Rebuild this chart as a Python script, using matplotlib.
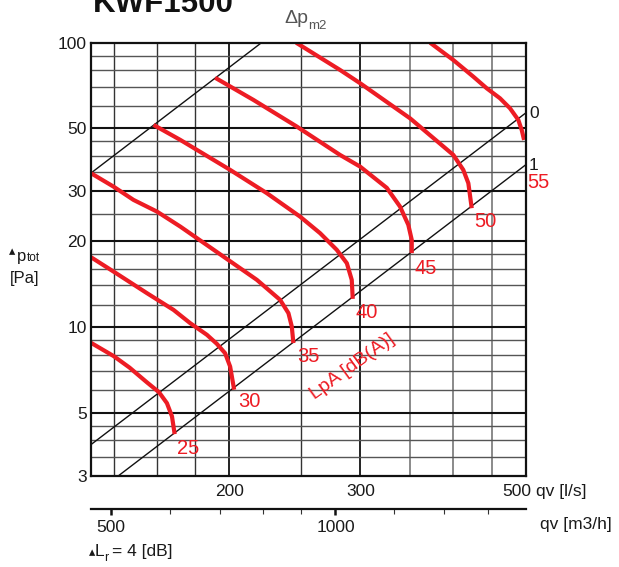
import matplotlib
matplotlib.use('Agg')
import matplotlib.pyplot as plt
import matplotlib.transforms as mtrans
from matplotlib.ticker import NullFormatter, FixedLocator, FixedFormatter

plt.rcParams['font.family'] = ['Liberation Sans', 'DejaVu Sans']

W, H = 619, 567
RED = '#ED1C24'
TXT = '#1a1a1a'

# ---------------- data ----------------
x_range = [130.5, 500]          # qv [l/s]
y_range = [3, 100]              # dp_tot [Pa]

x_grid_major = [200, 300]
x_grid_dark = [140, 160, 180, 250]
x_grid_light = [350, 400, 450]
y_grid_major = [5, 10, 20, 30, 50]
y_grid_minor = [3.5, 4, 4.5, 6, 7, 8, 9, 12, 14, 16, 18, 25, 35, 40, 45, 60, 70, 80, 90]

y_ticks = [3, 5, 10, 20, 30, 50, 100]
x_ticks = [200, 300]
m3h_major = [500, 1000]
m3h_minor = [600, 700, 800, 900, 1200, 1400, 1600]

# Δp_m2 lines (end points)
line_top_q = [130.5, 221]
line_top_p = [34.8, 100]
line0_q = [130.5, 500]
line0_p = [3.86, 56.6]
line1_q = [142.1, 500]
line1_p = [3.0, 37.2]

# LpA curves
c25_q = [130.5, 140, 147, 155, 161, 165, 167.6, 169]
c25_p = [8.8, 7.9, 7.2, 6.4, 5.9, 5.4, 4.85, 4.2]

c30_q = [130.5, 139.9, 155.1, 168.4, 177.3, 186.7, 192.5, 197.5, 200.6, 203.1]
c30_p = [17.6, 15.67, 13.16, 11.49, 10.32, 9.39, 8.73, 8.09, 7.26, 6.02]

c35_q = [130.5, 139.9, 148.8, 160, 172, 196.5, 217.9, 234.1, 240.2, 242.7, 243.9]
c35_p = [34.75, 31.18, 28.0, 25.47, 22.55, 17.69, 14.65, 12.46, 11.19, 10.04, 8.78]

c40_q = [158.3, 172, 200.6, 224.7, 249, 264.9, 278.9, 287.7, 292.1, 293]
c40_p = [51.4, 45.5, 35.7, 29.56, 24.45, 21.38, 18.68, 16.77, 14.65, 12.56]

c45_q = [191.5, 215.6, 246.5, 281.7, 299.8, 325.5, 339.1, 347.9, 351.6, 351.6]
c45_p = [75.3, 62.9, 50.7, 40.3, 36.65, 30.86, 26.52, 22.87, 20.25, 18.19]

c50_q = [246, 281.7, 299.8, 349.8, 399.8, 412.3, 418.8, 423.2]
c50_p = [100, 80.2, 72.0, 54.2, 40.3, 35.7, 32.05, 26.18]

c55_q = [372.1, 399.8, 425.3, 443.2, 461.8, 476.3, 488.7, 493.9, 497.5]
c55_p = [100, 86.9, 75.95, 69.15, 63.76, 58.8, 53.5, 49.3, 45.5]

curves = [(c25_q, c25_p), (c30_q, c30_p), (c35_q, c35_p), (c40_q, c40_p),
          (c45_q, c45_p), (c50_q, c50_p), (c55_q, c55_p)]
curve_labels = ['25', '30', '35', '40', '45', '50', '55']

# ---------------- layout helpers ----------------
def fx(x):
    return x / W

def fy(y):
    return 1 - y / H

L, R, T, B = 91, 525.7, 42.7, 475.7

fig = plt.figure(figsize=(W / 100, H / 100), dpi=100)
ax = fig.add_axes([fx(L), fy(B), (R - L) / W, (B - T) / H])
ax.set_xscale('log')
ax.set_yscale('log')
ax.set_xlim(*x_range)
ax.set_ylim(*y_range)

for v in x_grid_major:
    ax.axvline(v, color='#111111', lw=1.3, zorder=1)
for v in x_grid_dark:
    ax.axvline(v, color='#333333', lw=1.0, zorder=1)
for v in x_grid_light:
    ax.axvline(v, color='#777777', lw=1.2, zorder=1)
for v in y_grid_major:
    ax.axhline(v, color='#111111', lw=1.5, zorder=1)
for v in y_grid_minor:
    ax.axhline(v, color='#555555', lw=1.0, zorder=1)

for q, p in [(line_top_q, line_top_p), (line0_q, line0_p), (line1_q, line1_p)]:
    ax.plot(q, p, color='#111111', lw=1.0, zorder=2)

for q, p in curves:
    ax.plot(q, p, color=RED, lw=3.0, solid_capstyle='butt',
            solid_joinstyle='round', zorder=4)

for s in ax.spines.values():
    s.set_linewidth(1.6)
    s.set_color('#111111')
    s.set_zorder(5)

ax.xaxis.set_major_locator(FixedLocator([]))
ax.xaxis.set_minor_locator(FixedLocator([]))
ax.yaxis.set_major_locator(FixedLocator(y_ticks))
ax.yaxis.set_major_formatter(FixedFormatter([str(v) for v in y_ticks]))
ax.yaxis.set_minor_locator(FixedLocator([]))
ax.yaxis.set_minor_formatter(NullFormatter())
ax.tick_params(axis='both', which='both', length=0, labelsize=12.5,
               labelcolor=TXT, pad=3)

# x labels (l/s)
tr = mtrans.blended_transform_factory(ax.transData, fig.transFigure)
for v in x_ticks:
    ax.text(v, fy(491.7), str(v), transform=tr, ha='center', va='center',
            fontsize=12.5, color=TXT)
fig.text(fx(531), fy(491.7), '500', ha='right', va='center', fontsize=12.5, color=TXT)
fig.text(fx(535.5), fy(491.7), 'qv [l/s]', ha='left', va='center', fontsize=12.5, color=TXT)

# secondary axis (m3/h)
ax2 = fig.add_axes([fx(L), fy(509.3), (R - L) / W, 1e-6])
ax2.set_xscale('log')
ax2.set_xlim(x_range[0] * 3.6, x_range[1] * 3.6)
ax2.set_yticks([])
for k in ['left', 'right', 'top']:
    ax2.spines[k].set_visible(False)
ax2.spines['bottom'].set_linewidth(1.6)
ax2.spines['bottom'].set_color('#111111')
ax2.patch.set_visible(False)
ax2.xaxis.set_major_locator(FixedLocator(m3h_major))
ax2.xaxis.set_major_formatter(FixedFormatter([str(v) for v in m3h_major]))
ax2.xaxis.set_minor_locator(FixedLocator(m3h_minor))
ax2.xaxis.set_minor_formatter(NullFormatter())
ax2.tick_params(axis='x', which='major', direction='out', length=4, width=1.8,
                labelsize=12.5, labelcolor=TXT, pad=4, color='#111111')
ax2.tick_params(axis='x', which='minor', direction='out', length=3.5, width=0.8,
                color='#333333')
fig.text(fx(539.5), fy(525), 'qv [m3/h]', ha='left', va='center', fontsize=12.5, color=TXT)

# curve labels
label_pos = [(188.3, 448.3), (249, 401.7), (308.3, 356.7), (366.7, 312.3),
             (426, 268.3), (485.7, 221.7), (538.3, 182.5)]
for (px, py), t in zip(label_pos, curve_labels):
    fig.text(fx(px), fy(py), t, ha='center', va='center', fontsize=14.5, color=RED)

fig.text(fx(352.5), fy(366.7), 'LpA [dB(A)]', ha='center', va='center',
         fontsize=14, color=RED, rotation=36, rotation_mode='anchor')

fig.text(fx(534), fy(113.5), '0', ha='center', va='center', fontsize=12.5, color=TXT)
fig.text(fx(534), fy(165.5), '1', ha='center', va='center', fontsize=12.5, color=TXT)

# title and header
fig.text(fx(93), fy(11.7), 'KWF1500', ha='left', va='baseline', fontsize=22.5,
         fontweight='bold', color='#111111')
fig.text(fx(284), fy(22.7), 'Δp', ha='left', va='baseline', fontsize=14, color='#555555')
fig.text(fx(308), fy(29), 'm2', ha='left', va='baseline', fontsize=9.5, color='#555555')

# y label
fig.text(fx(9), fy(255), '▴', ha='left', va='baseline', fontsize=9,
         color=TXT, family='DejaVu Sans')
fig.text(fx(16.5), fy(260.7), 'p', ha='left', va='baseline', fontsize=12, color=TXT)
fig.text(fx(26.5), fy(260.7), 'tot', ha='left', va='baseline', fontsize=8.5, color=TXT)
fig.text(fx(10), fy(282.5), '[Pa]', ha='left', va='baseline', fontsize=12, color=TXT)

# ΔL_r note
fig.text(fx(89), fy(556.5), '▴', ha='left', va='baseline', fontsize=9,
         color=TXT, family='DejaVu Sans')
fig.text(fx(95), fy(556), 'L', ha='left', va='baseline', fontsize=12.5, color=TXT)
fig.text(fx(104.5), fy(561), 'r', ha='left', va='baseline', fontsize=9, color=TXT)
fig.text(fx(112), fy(556), '= 4 [dB]', ha='left', va='baseline', fontsize=12.5, color=TXT)

fig.savefig('out.png', dpi=100)
